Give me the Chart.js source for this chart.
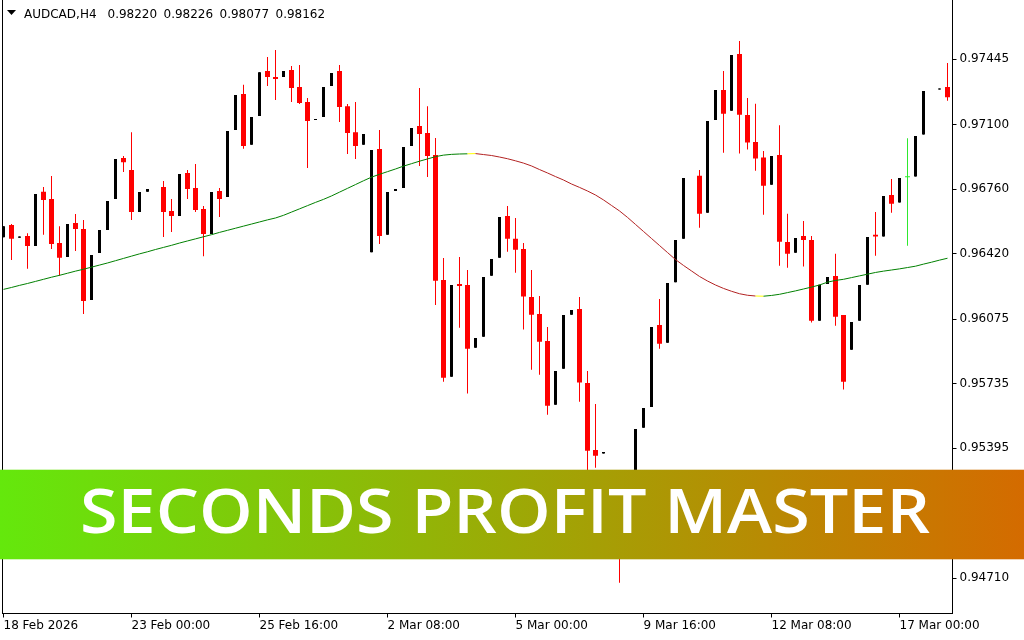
<!DOCTYPE html>
<html><head><meta charset="utf-8">
<script src="https://cdn.jsdelivr.net/npm/chart.js@4.4.1/dist/chart.umd.min.js"></script>
<style>html,body{margin:0;padding:0;background:#fff;}#wrap{position:relative;width:1024px;height:640px;}</style>
</head><body><div id="wrap"><canvas id="c" width="1024" height="640"></canvas></div>
<script>
const symbolTitle = 'AUDCAD,H4';
const headerValues = ['0.98220', '0.98226', '0.98077', '0.98162'];
const bannerText = 'SECONDS PROFIT MASTER';

const opens = [
0.96507,0.96571,0.96504,0.96513,0.96460,0.96746,0.96708,0.96476,0.96402,0.96581,
0.96550,0.96176,0.96423,0.96545,0.96708,0.96924,0.96861,0.96640,0.96746,null,
0.96771,0.96645,0.96618,0.96845,0.96766,0.96655,0.96524,0.96750,0.96718,0.97071,
0.97261,0.96993,0.97145,0.97382,0.97350,0.97350,0.97387,0.97298,0.97219,0.97124,
0.97140,0.97303,0.97382,0.97197,0.97060,0.96993,0.96428,0.96971,0.96519,0.96750,
0.96766,0.96987,0.97092,0.97055,0.96940,0.96281,0.95772,0.96260,0.96255,0.95924,
0.95983,0.96304,0.96398,0.96618,0.96498,0.96445,0.96192,0.96102,0.95960,0.95624,
0.95814,0.96098,0.96129,0.95739,0.95386,0.95367,0.95239,0.95017,0.94870,0.95123,
0.95503,0.95612,0.96044,0.95951,0.96270,0.96498,null,0.96831,0.96636,0.97124,
0.97282,0.97173,0.97472,0.97150,0.97008,0.96926,0.96783,0.96940,0.96481,0.96425,
0.96513,0.96492,0.96067,0.96260,0.96302,0.96097,0.95914,0.96067,0.96256,0.96519,
0.96510,0.96729,0.96689,0.96823,0.96826,0.97047,null,0.97284,0.97298];
const highs = [
0.96565,0.96576,0.96510,0.96528,0.96734,0.96771,0.96829,0.96565,0.96576,0.96629,
0.96597,0.96413,0.96545,0.96698,0.96919,0.96934,0.97060,0.96745,0.96761,null,
0.96803,0.96708,0.96840,0.96861,0.96892,0.96671,0.96745,0.96766,0.97066,0.97256,
0.97309,0.97140,0.97376,0.97456,0.97493,0.97382,0.97408,0.97414,0.97240,0.97129,
0.97298,0.97371,0.97414,0.97208,0.97219,0.97050,0.96966,0.97071,0.96745,0.96761,
0.96982,0.97082,0.97293,0.97197,0.97029,0.96397,0.96255,0.96402,0.96334,0.95976,
0.96297,0.96392,0.96613,0.96671,0.96608,0.96476,0.96334,0.96197,0.96034,0.95802,
0.96097,0.96123,0.96192,0.95802,0.95628,0.95376,0.95250,0.95070,0.95123,0.95497,
0.95607,0.96034,0.96181,0.96265,0.96492,0.96819,null,0.96861,0.97119,0.97282,
0.97382,0.97466,0.97540,0.97240,0.97210,0.96961,0.96934,0.97097,0.96630,0.96502,
0.96592,0.96513,0.96256,0.96297,0.96419,0.96097,0.96060,0.96255,0.96508,0.96640,
0.96724,0.96813,0.96819,0.97028,0.97040,0.97277,null,0.97287,0.97424];
const lows = [
0.96507,0.96387,0.96504,0.96340,0.96460,0.96519,0.96445,0.96304,0.96402,0.96434,
0.96102,0.96176,0.96423,0.96545,0.96708,0.96850,0.96597,0.96640,0.96746,null,
0.96508,0.96534,0.96618,0.96708,0.96640,0.96407,0.96524,0.96613,0.96718,0.97071,
0.96973,0.96993,0.97145,0.97303,0.97229,0.97350,0.97219,0.97208,0.96871,0.97124,
0.97140,0.97303,0.97113,0.96945,0.96919,0.96993,0.96428,0.96471,0.96519,0.96750,
0.96766,0.96987,0.96882,0.96824,0.96150,0.95746,0.95772,0.96030,0.95683,0.95924,
0.95983,0.96304,0.96398,0.96430,0.96320,0.96020,0.95809,0.95782,0.95572,0.95624,
0.95814,0.96098,0.95640,0.95228,0.95292,0.95367,0.94965,0.94687,0.94870,0.95123,
0.95503,0.95612,0.95919,0.95951,0.96270,0.96498,null,0.96556,0.96636,0.97124,
0.96952,0.97173,0.96947,0.96968,0.96857,0.96625,0.96783,0.96357,0.96346,0.96425,
0.96352,0.96057,0.96067,0.96260,0.96041,0.95704,0.95914,0.96067,0.96256,0.96409,
0.96510,0.96636,0.96689,0.96462,0.96826,0.97047,null,0.97284,0.97225];
const closes = [
0.96565,0.96499,0.96510,0.96460,0.96734,0.96703,0.96471,0.96398,0.96576,0.96550,
0.96171,0.96413,0.96545,0.96698,0.96919,0.96902,0.96640,0.96745,0.96761,null,
0.96640,0.96618,0.96840,0.96761,0.96650,0.96524,0.96745,0.96708,0.97066,0.97256,
0.96987,0.97140,0.97376,0.97350,0.97340,0.97382,0.97293,0.97213,0.97119,0.97129,
0.97298,0.97371,0.97192,0.97055,0.96987,0.97050,0.96966,0.96513,0.96745,0.96761,
0.96982,0.97082,0.97050,0.96934,0.96277,0.95766,0.96255,0.96250,0.95919,0.95976,
0.96297,0.96392,0.96613,0.96499,0.96441,0.96194,0.96098,0.95956,0.95619,0.95802,
0.96097,0.96123,0.95741,0.95382,0.95356,0.95376,0.95017,0.94870,0.95123,0.95497,
0.95607,0.96034,0.95945,0.96265,0.96492,0.96819,null,0.96630,0.97119,0.97282,
0.97157,0.97466,0.97152,0.97005,0.96921,0.96778,0.96934,0.96483,0.96419,0.96502,
0.96492,0.96067,0.96256,0.96297,0.96088,0.95746,0.96060,0.96255,0.96508,0.96510,
0.96724,0.96683,0.96819,0.96823,0.97040,0.97277,null,0.97287,0.97244];

const maValues = [
0.96232,0.96242,0.96253,0.96263,0.96274,0.96285,0.96296,0.96306,0.96317,0.96328,
0.96338,0.96349,0.96360,0.96371,0.96383,0.96395,0.96407,0.96419,0.96430,0.96442,
0.96453,0.96464,0.96476,0.96487,0.96498,0.96509,0.96520,0.96532,0.96543,0.96554,
0.96565,0.96576,0.96587,0.96598,0.96608,0.96622,0.96639,0.96656,0.96673,0.96690,
0.96706,0.96724,0.96744,0.96764,0.96784,0.96804,0.96823,0.96838,0.96852,0.96866,
0.96881,0.96894,0.96907,0.96919,0.96931,0.96939,0.96943,0.96945,0.96946,0.96947,
0.96942,0.96937,0.96929,0.96920,0.96909,0.96897,0.96882,0.96863,0.96845,0.96826,
0.96808,0.96787,0.96769,0.96750,0.96729,0.96703,0.96674,0.96645,0.96611,0.96574,
0.96537,0.96500,0.96463,0.96426,0.96389,0.96358,0.96329,0.96300,0.96276,0.96255,
0.96237,0.96222,0.96209,0.96201,0.96197,0.96196,0.96200,0.96206,0.96215,0.96224,
0.96234,0.96244,0.96255,0.96270,0.96279,0.96285,0.96294,0.96303,0.96312,0.96321,
0.96328,0.96334,0.96340,0.96347,0.96354,0.96365,0.96375,0.96386,0.96396];

const yTickValues = [0.97445, 0.97100, 0.96760, 0.96420, 0.96075, 0.95735, 0.95395, 0.95055, 0.94710];
const xTickIndex = [0, 16, 32, 48, 64, 80, 96, 112];
const xTickLabels = ['18 Feb 2026', '23 Feb 00:00', '25 Feb 16:00', '2 Mar 08:00', '5 Mar 00:00', '9 Mar 16:00', '12 Mar 08:00', '17 Mar 00:00'];

const RED = '#ff0000', BLACK = '#000000', LIME = '#2ee82e';
const MA_UP = '#008000', MA_DOWN = '#b22222', MA_TURN = '#ffff00';

const valid = opens.map((_, i) => i).filter(i => opens[i] !== null);
const kind = i => closes[i] > opens[i] ? 'bull' : (closes[i] < opens[i] ? 'bear' : 'doji');
const wickData = valid.map(i => ({x: i, y: [lows[i], highs[i]]}));
const wickColors = valid.map(i => kind(i) === 'bear' ? RED : (kind(i) === 'doji' ? LIME : BLACK));
const bodyData = k => valid.filter(i => kind(i) === k).map(i => ({x: i, y: [opens[i], closes[i]]}));
const maData = maValues.map((v, i) => ({x: i, y: v}));

function maColor(ctx) {
  const i = ctx.p0DataIndex;
  const d1 = maValues[i + 1] - maValues[i];
  if (i + 2 < maValues.length) {
    const d2 = maValues[i + 2] - maValues[i + 1];
    if (Math.sign(d1) !== Math.sign(d2)) return MA_TURN;
  }
  return d1 >= 0 ? MA_UP : MA_DOWN;
}

const overlay = {
  id: 'overlay',
  afterDraw(chart) {
    const ctx = chart.ctx, a = chart.chartArea;
    ctx.save();
    ctx.strokeStyle = '#000'; ctx.lineWidth = 1;
    ctx.beginPath(); ctx.moveTo(2.5, a.top); ctx.lineTo(2.5, a.bottom + 0.5); ctx.stroke();
    ctx.fillStyle = '#000';
    ctx.beginPath(); ctx.moveTo(7, 10); ctx.lineTo(16, 10); ctx.lineTo(11.5, 15); ctx.closePath(); ctx.fill();
    ctx.font = '12px "DejaVu Sans"';
    ctx.textBaseline = 'alphabetic'; ctx.textAlign = 'left';
    ctx.fillText(symbolTitle, 24, 18);
    headerValues.forEach((v, k) => ctx.fillText(v, 107.5 + k * 56, 18));
    const g = ctx.createLinearGradient(0, 0, 1024, 0);
    g.addColorStop(0, '#64e80c'); g.addColorStop(1, '#d46b00');
    ctx.fillStyle = g;
    ctx.fillRect(0, 470, 1024, 89);
    ctx.globalAlpha = 0.3;
    ctx.fillRect(0, 469, 1024, 1); ctx.fillRect(0, 559, 1024, 1);
    ctx.globalAlpha = 1;
    ctx.font = '600 61px "Open Sans"';
    const w = ctx.measureText(bannerText).width;
    ctx.translate(80, 533); ctx.scale(850 / w, 1);
    ctx.fillStyle = '#ffffff';
    ctx.fillText(bannerText, 0, 0);
    ctx.restore();
  }
};

Chart.defaults.font.family = 'DejaVu Sans';
Chart.defaults.font.size = 12;
Chart.defaults.color = '#000';

new Chart(document.getElementById('c'), {
  type: 'bar',
  data: {
    datasets: [
      {type: 'line', label: 'MA', data: maData, order: 0, borderWidth: 1, pointRadius: 0, tension: 0,
        borderColor: MA_UP, segment: {borderColor: maColor}},
      {label: 'bear', data: bodyData('bear'), order: 1, grouped: false, maxBarThickness: 5, backgroundColor: RED, minBarLength: 1, inflateAmount: 0},
      {label: 'bull', data: bodyData('bull'), order: 1, grouped: false, maxBarThickness: 3, backgroundColor: BLACK, minBarLength: 1, inflateAmount: 0},
      {label: 'doji', data: bodyData('doji'), order: 1, grouped: false, maxBarThickness: 5, backgroundColor: LIME, minBarLength: 1, inflateAmount: 0},
      {label: 'wick', data: wickData, order: 2, grouped: false, maxBarThickness: 1, backgroundColor: wickColors, minBarLength: 1, inflateAmount: 0}
    ]
  },
  options: {
    responsive: false, animation: false, devicePixelRatio: 1,
    layout: {padding: {left: 3, top: 0, right: 0, bottom: 0}},
    plugins: {legend: {display: false}, tooltip: {enabled: false}},
    scales: {
      x: {
        type: 'linear', min: -0.0625, max: 118.625, offset: false,
        afterBuildTicks: s => { s.ticks = xTickIndex.map(v => ({value: v})); },
        afterFit: s => { s.height = 26.5; s.paddingLeft = 0; s.paddingRight = 0; },
        grid: {drawOnChartArea: false, drawTicks: true, tickLength: 4, color: '#000', offset: false},
        border: {display: true, color: '#000', width: 1},
        ticks: {align: 'start', padding: 1, maxRotation: 0, autoSkip: false, color: '#000',
          font: {family: 'DejaVu Sans', size: 12},
          callback: v => xTickLabels[xTickIndex.indexOf(v)]}
      },
      y: {
        type: 'linear', position: 'right', min: 0.945249, max: 0.97756,
        afterBuildTicks: s => { s.ticks = yTickValues.map(v => ({value: v})); },
        afterFit: s => { s.width = 71.5; s.paddingTop = 0; s.paddingBottom = 0; },
        grid: {drawOnChartArea: false, drawTicks: true, tickLength: 4, color: '#000'},
        border: {display: true, color: '#000', width: 1},
        ticks: {padding: 3, autoSkip: false, color: '#000', font: {family: 'DejaVu Sans', size: 12},
          callback: v => v.toFixed(5)}
      }
    }
  },
  plugins: [overlay]
});
</script></body></html>
